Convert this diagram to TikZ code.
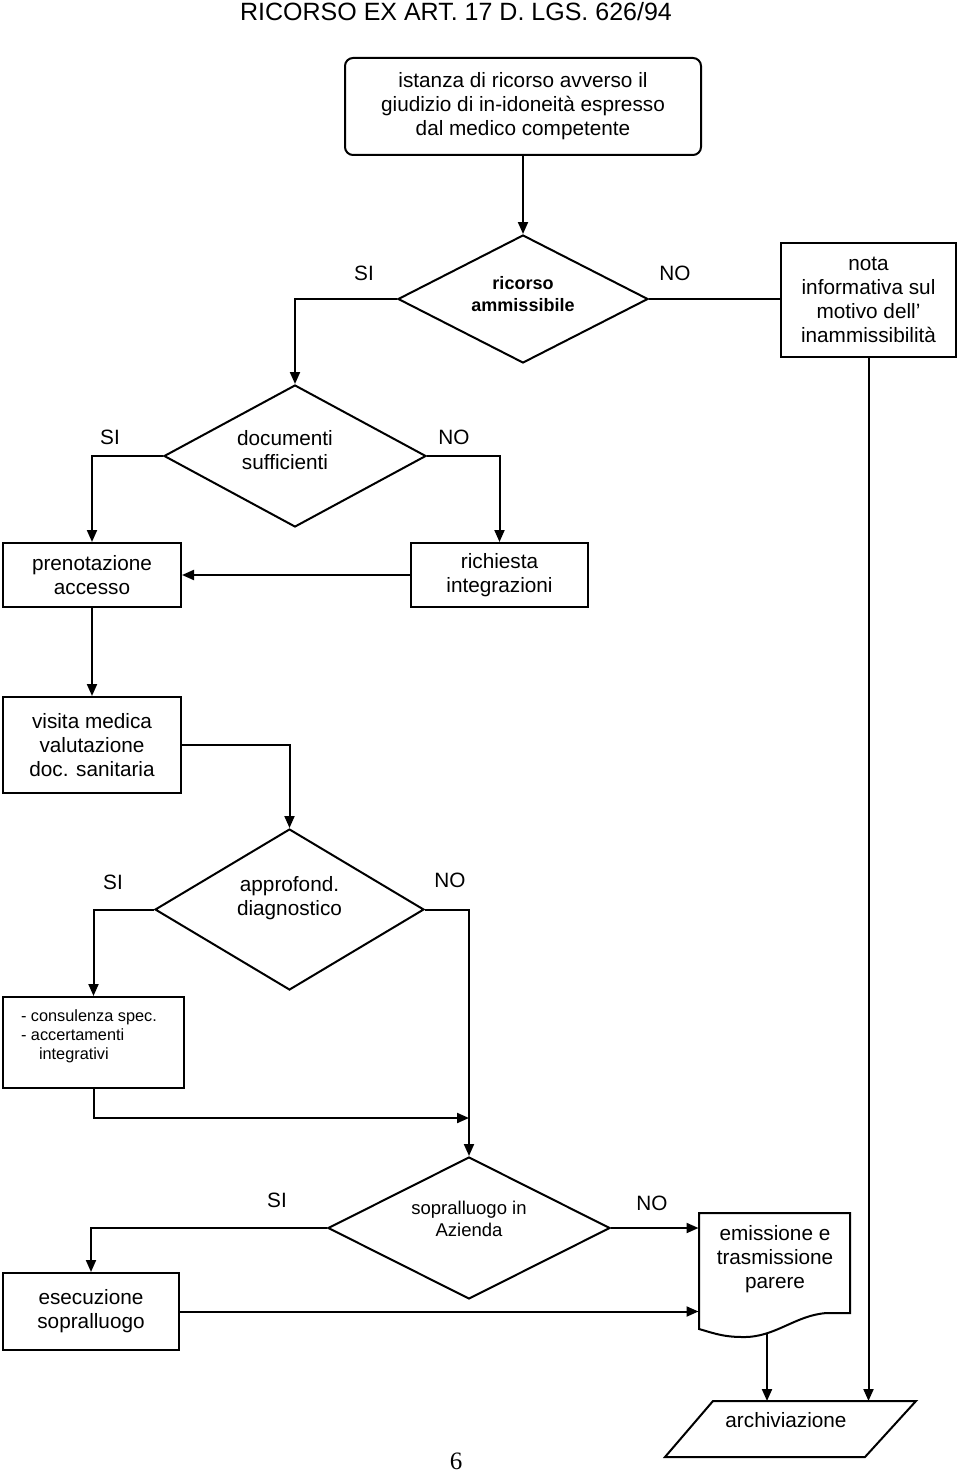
\documentclass[tikz,border=0pt]{standalone}
\usepackage{fontspec}
\setmainfont{Liberation Sans}
\newfontfamily\pagefont{Liberation Serif}
\usetikzlibrary{arrows.meta,shapes.geometric}
\begin{document}
\begin{tikzpicture}[x=1pt,y=-1pt,line width=2pt,
  every node/.style={inner sep=0pt},
  txt/.style={font=\fontsize{20.75}{24}\selectfont, align=center},
  box/.style={draw, rectangle, txt},
  dia/.style={draw, diamond},
  lbl/.style={font=\fontsize{20.75}{24}\selectfont},
  arr/.style={-{Triangle[length=12pt,width=10pt]}},
]
\fill[white] (0,0) rectangle (960,1474);
\useasboundingbox (0,0) rectangle (960,1474);

\node[font=\fontsize{25}{30}\selectfont, anchor=base] (title) at (456,21) {RICORSO EX ART. 17 D. LGS. 626/94};

\node[box, rounded corners=8pt, minimum width=356pt, minimum height=97pt] (start) at (523,106.5) {istanza di ricorso avverso il\\giudizio di in-idoneità espresso\\dal medico competente};

\node[dia, minimum width=250pt, minimum height=128pt] (d1) at (523,299) {};
\node[font=\bfseries\fontsize{18}{22}\selectfont, align=center] (d1t) at (523,294) {ricorso\\ammissibile};
\node[lbl] (si1) at (364,273) {SI};
\node[lbl] (no1) at (675,273) {NO};
\node[box, minimum width=175pt, minimum height=114pt] (nota) at (868.5,300) {nota\\informativa sul\\motivo dell'\\inammissibilità};

\node[dia, minimum width=262pt, minimum height=142pt] (d2) at (295,456) {};
\node[txt] (d2t) at (285,450) {documenti\\sufficienti};
\node[lbl] (si2) at (110,437) {SI};
\node[lbl] (no2) at (454,437) {NO};
\node[box, minimum width=178pt, minimum height=64pt] (pren) at (92,575) {prenotazione\\accesso};
\node[box, minimum width=177pt, minimum height=64pt] (rich) at (499.5,575) {richiesta\\integrazioni};
\node[box, minimum width=178pt, minimum height=96pt] (vis) at (92,745) {visita medica\\valutazione\\doc. sanitaria};

\node[dia, minimum width=269pt, minimum height=161pt] (d3) at (289.5,909.5) {};
\node[txt] (d3t) at (289.5,898) {approfond.\\diagnostico};
\node[lbl] (si3) at (113,882) {SI};
\node[lbl] (no3) at (450,880) {NO};
\node[draw, rectangle, minimum width=181pt, minimum height=91pt] (cons) at (93.5,1042.5) {};
\node[font=\fontsize{16.3}{18.7}\selectfont, align=left, anchor=north west] (const) at (20,1009) {- consulenza spec.\\- accertamenti\\\hspace*{18pt}integrativi};
\coordinate (j) at (469,1118);

\node[dia, minimum width=282pt, minimum height=142pt] (d4) at (469,1228) {};
\node[font=\fontsize{18.5}{22}\selectfont, align=center] (d4t) at (469,1219) {sopralluogo in\\Azienda};
\node[lbl] (si4) at (277,1200) {SI};
\node[lbl] (no4) at (652,1203) {NO};
\node[box, minimum width=176pt, minimum height=77pt] (esec) at (91,1311.5) {esecuzione\\sopralluogo};

\node[minimum width=151pt, minimum height=100pt] (emis) at (775,1263) {};
\draw (699,1213) -- (850,1213) -- (850,1313) -- (827,1313) .. controls (795,1315) and (775,1338) .. (742,1337) .. controls (722,1337) and (710,1332) .. (699,1329) -- cycle;
\node[txt] (emist) at (775,1259) {emissione e\\trasmissione\\parere};
\coordinate (emisb) at (767,1334);

\draw (713,1401) -- (916,1401) -- (865,1457) -- (665,1457) -- cycle;
\node[txt] (arch) at (786,1420) {archiviazione};
\coordinate (archtop) at (790,1401);

\node[font=\pagefont\fontsize{25}{30}\selectfont] (pg) at (456,1461.5) {6};

\draw[arr] (start.south) -- (d1.north);
\draw[arr] (d1.west) -| (d2.north);
\draw (d1.east) -- (d1.east -| nota.west);
\draw[arr] (nota.south) -- (nota.south |- archtop);
\draw[arr] (d2.west) -| (pren.north);
\draw[arr] (d2.east) -| (rich.north);
\draw[arr] (rich.west) -- (pren.east);
\draw[arr] (pren.south) -- (vis.north);
\draw[arr] (vis.east) -| (d3.north);
\draw[arr] (d3.west) -| (cons.north);
\draw[arr] (d3.east) -| (d4.north);
\draw[arr] (cons.south) |- (j);
\draw[arr] (d4.west) -| (esec.north);
\draw[arr] (d4.east) -- (d4.east -| emis.west);
\draw[arr] (esec.east) -- (esec.east -| emis.west);
\draw[arr] (emisb) -- (emisb |- archtop);
\end{tikzpicture}
\end{document}
